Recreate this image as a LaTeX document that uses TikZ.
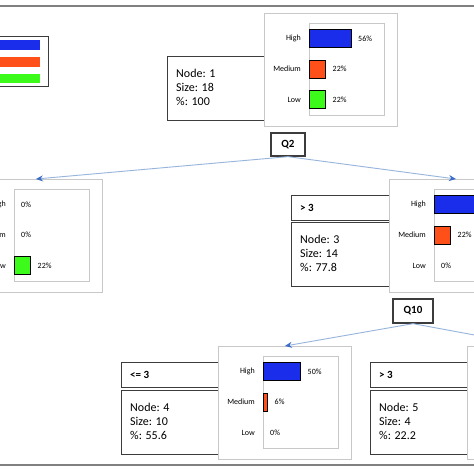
\documentclass[tikz,border=0pt]{standalone}
\usepackage{fontspec}
\setmainfont{Carlito}
\usetikzlibrary{arrows.meta}
\definecolor{barblue}{RGB}{25,45,235}
\definecolor{barorange}{RGB}{255,80,25}
\definecolor{bargreen}{RGB}{60,250,25}
\definecolor{boxdark}{RGB}{60,60,60}
\definecolor{chartgray}{RGB}{200,200,200}
\definecolor{linkblue}{RGB}{150,180,220}
\definecolor{headblue}{RGB}{60,110,200}
\definecolor{rulegray}{RGB}{128,128,128}
\tikzset{
 textbox/.style={draw=boxdark, line width=1.3pt, fill=white, anchor=north west, inner sep=0},
 chartbox/.style={draw=chartgray, line width=0.9pt, fill=white, anchor=north west, inner sep=0, minimum width=133pt, minimum height=113pt},
 plotbox/.style={draw=chartgray, line width=0.9pt, anchor=north west, inner sep=0, minimum width=75pt, minimum height=92pt},
 barline/.style={draw=black, line width=0.7pt},
 cat/.style={font=\fontsize{8}{9}\selectfont, inner sep=0, anchor=east},
 pct/.style={font=\fontsize{8}{9}\selectfont, inner sep=0, anchor=west},
 info/.style={font=\fontsize{12}{14}\selectfont, align=left, inner sep=0, anchor=north west},
 cond/.style={font=\bfseries\fontsize{11}{13}\selectfont, inner sep=0, anchor=west},
 qbox/.style={draw=boxdark, line width=1.3pt, fill=white, font=\bfseries\fontsize{11}{13}\selectfont, inner sep=0},
 conn/.style={draw=linkblue, line width=0.9pt, -{Stealth[length=7pt,width=6pt,color=headblue]}},
 rulestyle/.style={draw=rulegray, line width=1.2pt},
}
% prefix, inner left, y centre, pct, colour, label
\newcommand\chartrow[6]{%
  \ifnum#4>0 \path[barline, fill=#5] (#2,#3-9) rectangle ++(0.75*#4,18);\fi
  \node[pct] (#1v) at ({#2+0.75*#4+7},#3) {#4\%};
  \node[cat] (#1l) at (#2-8,#3) {#6};
}
% name, left, top, high, medium, low
\newcommand\chartbox[6]{%
  \node[chartbox] (#1) at (#2,#3) {};
  \node[plotbox] (#1p) at (#2+45,#3+10) {};
  \chartrow{#1h}{#2+45}{#3+25.5}{#4}{barblue}{High}
  \chartrow{#1m}{#2+45}{#3+56}{#5}{barorange}{Medium}
  \chartrow{#1o}{#2+45}{#3+86.5}{#6}{bargreen}{Low}
}
% name, left, top, node, size, pct
\newcommand\infobox[6]{%
  \node[textbox, minimum width=120pt, minimum height=63.5pt] (#1) at (#2,#3) {};
  \node[info] (#1t) at (#2+9,#3+13) {Node: #4\\Size: #5\\\%: #6};
}
% name, left, top, text
\newcommand\condbox[4]{%
  \node[textbox, minimum width=120pt, minimum height=25pt] (#1) at (#2,#3) {};
  \node[cond] (#1t) at (#2+9,#3+12.5) {#4};
}
\begin{document}
\begin{tikzpicture}[x=1pt, y=-1pt]
\useasboundingbox (0,0) rectangle (474,474);
\clip (0,0) rectangle (474,474);
\fill[white] (0,0) rectangle (474,474);
% rules
\coordinate (tl) at (0,6); \coordinate (tr) at (474,6);
\coordinate (bl) at (0,465); \coordinate (br) at (474,465);
\draw[rulestyle] (tl) -- (tr);
\draw[rulestyle] (bl) -- (br);
% legend
\node[textbox, line width=1pt, minimum width=60pt, minimum height=50pt] (legend) at (-12,36) {};
\fill[barblue] (-12,40) rectangle (40,50);
\fill[barorange] (-12,57) rectangle (40,66.5);
\fill[bargreen] (-12,73.5) rectangle (40,83);
% text boxes
\infobox{n1}{167}{56}{1}{18}{100}
\condbox{k3}{291}{195}{> 3}
\infobox{n3}{291}{222}{3}{14}{77.8}
\condbox{k4}{121}{362}{<= 3}
\infobox{n4}{121}{390}{4}{10}{55.6}
\condbox{k5}{370}{362}{> 3}
\infobox{n5}{370}{390}{5}{4}{22.2}
% charts
\chartbox{c1}{264}{13}{56}{22}{22}
\chartbox{c2}{-31}{179}{0}{0}{22}
\chartbox{c3}{389}{179}{56}{22}{0}
\chartbox{c4}{218}{346}{50}{6}{0}
\chartbox{c5}{467}{346}{6}{17}{0}
% question boxes
\node[qbox, minimum width=34pt, minimum height=23pt] (q2) at (288,144.5) {Q2};
\node[qbox, minimum width=40pt, minimum height=24pt] (q10) at (413,311) {Q10};
% connectors
\draw[conn] (q2.south) -- (c2.north);
\draw[conn] (q2.south) -- (c3.north);
\draw[conn] (q10.south) -- (c4.north);
\draw[conn] (q10.south) -- (c5.north);
\end{tikzpicture}
\end{document}
